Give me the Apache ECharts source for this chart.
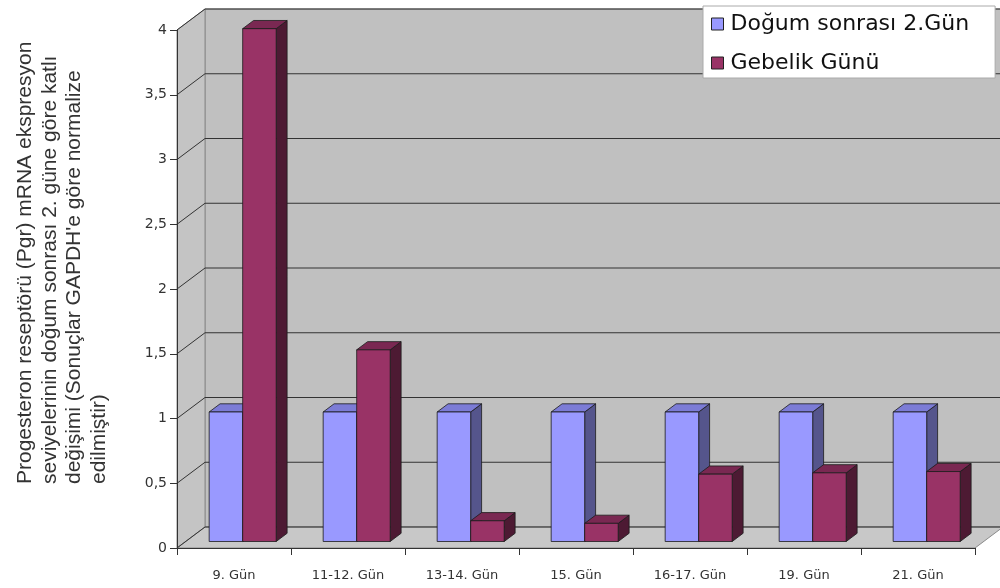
<!DOCTYPE html>
<html>
<head>
<meta charset="utf-8">
<script src="https://cdn.jsdelivr.net/npm/echarts@6/dist/echarts.min.js"></script>
<style>
html,body{margin:0;padding:0;background:#fff;}
#chart{width:1000px;height:588px;}
</style>
</head>
<body>
<div id="chart"></div>
<script>
// ---- data ----
const categories = ['9. Gün', '11-12. Gün', '13-14. Gün', '15. Gün', '16-17. Gün', '19. Gün', '21. Gün'];
const seriesNames = ['Doğum sonrası 2.Gün', 'Gebelik Günü'];
const dogumSonrasi = [1, 1, 1, 1, 1, 1, 1];
const gebelikGunu = [3.96, 1.48, 0.16, 0.14, 0.52, 0.53, 0.54];
const yTicks = [0, 0.5, 1, 1.5, 2, 2.5, 3, 3.5, 4];
const yTitle = "Progesteron reseptörü (Pgr) mRNA ekspresyon\nseviyelerinin doğum sonrası 2. güne göre katlı\ndeğişimi (Sonuçlar GAPDH'e göre normalize\nedilmiştir)";

// ---- 3D styling ----
const DEPTH = [28, -21];          // wall depth (dx, dy)
const BAR_FRONT = 0.31;           // bar front position as fraction of depth
const BAR_BACK = 0.70;            // bar back position
const BAR_FRAC = 0.294;           // bar width as fraction of band
const palettes = [
  {front: '#9999ff', top: '#7c7cd6', side: '#55558c'},
  {front: '#993366', top: '#7a2852', side: '#4d1a33'}
];

const chart = echarts.init(document.getElementById('chart'), null, {renderer: 'canvas'});

function renderWalls(params, api) {
  const band = api.size([1, 0])[0];
  const x0 = api.coord([0, 0])[0] - band / 2;
  const x1 = api.coord([categories.length - 1, 0])[0] + band / 2;
  const y0 = api.coord([0, yTicks[0]])[1];
  const yT = api.coord([0, yTicks[yTicks.length - 1]])[1];
  const dx = DEPTH[0], dy = DEPTH[1];
  const wallStroke = '#8a8a8a';
  const children = [];
  children.push({type: 'polygon', shape: {points: [[x0 + dx, yT + dy], [x1 + dx, yT + dy], [x1 + dx, y0 + dy], [x0 + dx, y0 + dy]]},
    style: {fill: '#c0c0c0', stroke: wallStroke, lineWidth: 1}});
  children.push({type: 'polygon', shape: {points: [[x0, yT], [x0 + dx, yT + dy], [x0 + dx, y0 + dy], [x0, y0]]},
    style: {fill: '#c4c4c4', stroke: wallStroke, lineWidth: 1}});
  children.push({type: 'polygon', shape: {points: [[x0, y0], [x1, y0], [x1 + dx, y0 + dy], [x0 + dx, y0 + dy]]},
    style: {fill: '#c8c8c8', stroke: wallStroke, lineWidth: 1}});
  yTicks.forEach(function (v) {
    const y = api.coord([0, v])[1];
    children.push({type: 'polyline', shape: {points: [[x0, y], [x0 + dx, y + dy], [x1 + dx, y + dy]]},
      style: {stroke: '#333333', lineWidth: 1, fill: null}});
  });
  return {type: 'group', children: children};
}

function makeBarRenderer(sIdx) {
  const pal = palettes[sIdx];
  return function (params, api) {
    const i = api.value(0), v = api.value(1);
    const base = api.coord([i, 0]);
    const top = api.coord([i, v]);
    const band = api.size([1, 0])[0];
    const w = band * BAR_FRAC;
    const fx = DEPTH[0] * BAR_FRONT, fy = DEPTH[1] * BAR_FRONT;
    const ddx = DEPTH[0] * (BAR_BACK - BAR_FRONT), ddy = DEPTH[1] * (BAR_BACK - BAR_FRONT);
    const xL = base[0] - w + sIdx * w + fx;
    const xR = xL + w;
    const yB = base[1] + fy;
    const yT = top[1] + fy;
    const st = {stroke: '#1a1a1a', lineWidth: 0.8, lineJoin: 'round'};
    return {type: 'group', children: [
      {type: 'polygon', shape: {points: [[xR, yT], [xR + ddx, yT + ddy], [xR + ddx, yB + ddy], [xR, yB]]},
        style: Object.assign({fill: pal.side}, st)},
      {type: 'polygon', shape: {points: [[xL, yT], [xR, yT], [xR + ddx, yT + ddy], [xL + ddx, yT + ddy]]},
        style: Object.assign({fill: pal.top}, st)},
      {type: 'polygon', shape: {points: [[xL, yT], [xR, yT], [xR, yB], [xL, yB]]},
        style: Object.assign({fill: pal.front}, st)}
    ]};
  };
}

const option = {
  backgroundColor: '#ffffff',
  animation: false,
  grid: {left: 177, top: 30, width: 798, height: 518, containLabel: false},
  xAxis: {
    type: 'category',
    data: categories,
    boundaryGap: true,
    z: 10,
    axisLine: {show: true, lineStyle: {color: '#333', width: 1}},
    axisTick: {show: true, alignWithLabel: false, length: 7, lineStyle: {color: '#333'}},
    axisLabel: {margin: 21, color: '#333', fontFamily: 'DejaVu Sans', fontSize: 13},
    splitLine: {show: false}
  },
  yAxis: {
    type: 'value',
    min: 0, max: 4, interval: 0.5,
    z: 10,
    axisLine: {show: true, lineStyle: {color: '#333', width: 1}},
    axisTick: {show: true, length: 7, lineStyle: {color: '#333'}},
    axisLabel: {margin: 10, color: '#333', fontFamily: 'DejaVu Sans', fontSize: 14,
      formatter: function (v) { return String(v).replace('.', ','); }},
    splitLine: {show: false}
  },
  legend: {
    data: seriesNames,
    orient: 'vertical',
    left: 703, top: 6,
    padding: [7, 26, 4, 8],
    itemGap: 17,
    itemWidth: 12, itemHeight: 12,
    icon: 'rect',
    backgroundColor: '#ffffff',
    borderColor: '#aaa',
    borderWidth: 1,
    itemStyle: {borderColor: '#222', borderWidth: 1},
    textStyle: {fontFamily: 'DejaVu Sans', fontSize: 22, color: '#111', padding: [0, 0, 0, 2]}
  },
  graphic: [{
    type: 'text', x: 13, y: 484, rotation: Math.PI / 2,
    style: {text: yTitle, font: '21px "Liberation Sans"', fill: '#333', align: 'left', verticalAlign: 'top', lineHeight: 24.5}
  }],
  series: [
    {type: 'custom', name: '__walls', silent: true, z: 1, renderItem: renderWalls, data: [[0, 0]], clip: false},
    {type: 'custom', name: seriesNames[0], z: 3, itemStyle: {color: palettes[0].front},
      renderItem: makeBarRenderer(0), data: dogumSonrasi.map(function (v, i) { return [i, v]; })},
    {type: 'custom', name: seriesNames[1], z: 4, itemStyle: {color: palettes[1].front},
      renderItem: makeBarRenderer(1), data: gebelikGunu.map(function (v, i) { return [i, v]; })}
  ]
};
chart.setOption(option);
</script>
</body>
</html>
